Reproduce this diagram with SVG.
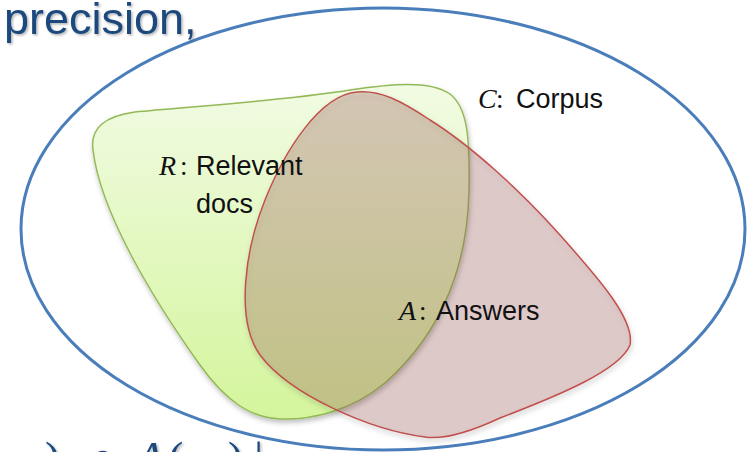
<svg xmlns="http://www.w3.org/2000/svg" width="750" height="452" viewBox="0 0 750 452">
<defs>
<style>
.lbl{font-family:"Liberation Sans",Arial,sans-serif;font-size:27px;fill:#111}
.math{font-family:"Liberation Serif","DejaVu Serif",serif;font-style:italic;font-size:28px;fill:#111}
.colon{font-family:"Liberation Serif","DejaVu Serif",serif;font-size:27px;fill:#111}
.title{font-family:"Liberation Sans",Arial,sans-serif;font-size:45px;fill:#1F497D}
.titlem{font-family:"Liberation Serif","DejaVu Serif",serif;font-size:46px;fill:#1F497D}
</style>
<linearGradient id="gR" x1="0" y1="0" x2="0" y2="1">
<stop offset="0" stop-color="#F1FBE3"/>
<stop offset="1" stop-color="#D4F59C"/>
</linearGradient>
<filter id="sh" x="-10%" y="-10%" width="120%" height="130%">
<feDropShadow dx="1" dy="3" stdDeviation="2.5" flood-color="#000" flood-opacity="0.25"/>
</filter>
<filter id="tsh" x="-5%" y="-20%" width="110%" height="150%">
<feDropShadow dx="1.5" dy="1.5" stdDeviation="1" flood-color="#000" flood-opacity="0.3"/>
</filter>
</defs>
<rect width="750" height="452" fill="#fff"/>
<g id="corpus">
<ellipse cx="383" cy="229" rx="362" ry="221" fill="none" stroke="#4A7EBB" stroke-width="3"/>
</g>
<g id="relevant">
<path d="M93,150 C90,128 105,116 135,112 C200,106 290,100 350,90 C390,84 430,80 450,94 C468,108 470,140 469,190 C468,260 445,330 385,383 C350,412 310,420 280,419 C250,418 225,400 200,365 C150,295 100,210 93,150 Z" fill="url(#gR)" stroke="#93B956" stroke-width="1.5" filter="url(#sh)"/>
</g>
<g id="answers">
<path d="M357,92 C320,95 285,150 265,200 C245,250 235,320 260,355 C290,395 370,430 425,437 C445,440 470,432 500,418 C560,395 620,370 630,345 C635,320 600,280 560,235 C520,190 470,145 430,120 C400,100 380,90 357,92 Z" fill="#9B5050" fill-opacity="0.25" stroke="#C0504D" stroke-width="1.5" filter="url(#sh)"/>
</g>
<g id="labels">
<text class="math" x="478" y="108">C</text><text class="colon" x="496" y="108">:</text><text class="lbl" x="516" y="108">Corpus</text>
<text class="math" x="159" y="175">R</text><text class="colon" x="180" y="175">:</text><text class="lbl" x="196" y="175">Relevant</text>
<text class="lbl" x="196" y="213">docs</text>
<text class="math" x="399" y="320">A</text><text class="colon" x="419" y="320">:</text><text class="lbl" x="436" y="320">Answers</text>
</g>
<g id="title" filter="url(#tsh)">
<text class="title" x="4" y="34">precision,</text>
<text class="titlem" y="474"><tspan x="45">)</tspan><tspan x="86">∩</tspan><tspan x="136" font-style="italic">A</tspan><tspan x="168">(</tspan><tspan x="196" font-style="italic">q</tspan><tspan x="228">)</tspan><tspan x="254">|</tspan></text>
</g>
</svg>
